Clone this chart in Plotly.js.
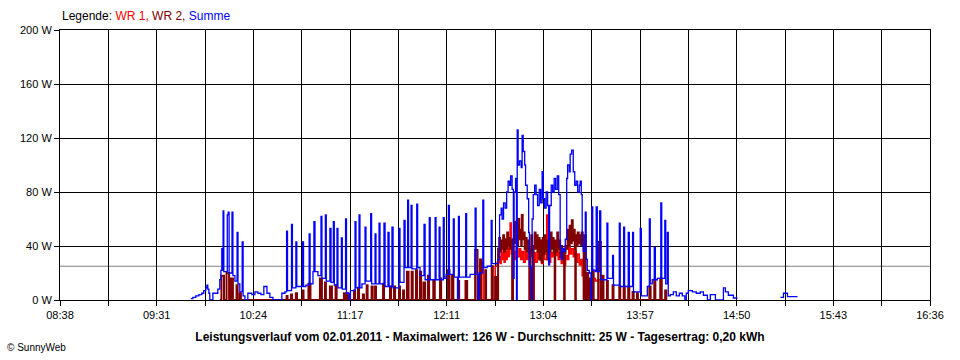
<!DOCTYPE html>
<html><head><meta charset="utf-8">
<script src="https://cdn.plot.ly/plotly-3.0.1.min.js"></script>
<style>html,body{margin:0;padding:0;background:#fff}#chart{width:960px;height:360px}</style>
</head><body><div id="chart"></div>
<script>
// ---- Data (time in minutes since midnight, power in W) ----
const xTickLabels = ["08:38","09:31","10:24","11:17","12:11","13:04","13:57","14:50","15:43","16:36"];
const yTickValues = [0, 40, 80, 120, 160, 200];
const dateText = "02.01.2011";
const maxW = 126;
const averageW = 25;
const dailyKWh = "0,20";

const summeTime = [589.9,591.0,592.6,594.3,595.9,597.0,598.1,598.7,599.2,599.8,600.3,602.0,604.7,605.8,606.4,606.9,607.3,607.6,608.0,609.9,610.4,610.9,612.5,613.0,614.1,615.3,615.8,616.8,618.1,618.6,619.6,621.2,623.4,625.1,626.7,628.4,630.0,631.7,633.3,635.0,639.9,641.6,642.5,643.0,645.2,645.7,647.6,648.1,651.3,651.8,653.1,654.9,655.4,657.0,657.5,658.1,659.7,661.4,661.9,663.8,664.3,666.3,666.9,668.2,668.7,670.2,670.7,672.6,673.1,674.9,675.4,676.9,677.6,680.1,680.6,682.3,682.8,683.9,685.6,686.1,688.7,689.2,691.1,691.6,693.3,693.8,696.0,696.6,698.2,698.8,700.4,701.0,704.3,704.8,707.0,707.6,709.0,709.5,710.9,711.4,714.0,714.5,715.8,718.0,718.6,720.9,721.4,724.1,724.6,726.3,726.8,728.6,729.1,730.1,731.4,731.9,734.1,734.6,736.4,736.9,737.4,740.9,741.4,743.3,746.1,746.6,747.7,748.3,750.3,750.8,752.7,754.9,755.4,758.7,759.5,760.4,760.9,761.7,762.6,763.4,764.2,765.0,765.6,766.4,767.1,767.5,768.3,768.8,769.2,769.7,770.5,771.4,771.9,772.5,773.3,773.8,774.7,775.5,775.9,776.5,777.0,777.4,778.0,778.8,779.6,780.4,781.3,782.1,782.9,783.5,784.3,785.1,785.9,786.5,787.0,787.9,788.7,789.5,790.3,791.2,792.0,792.8,793.4,793.9,794.7,795.6,796.4,796.9,797.8,798.3,799.1,800.0,800.8,801.6,802.4,803.3,803.8,804.4,804.9,805.5,806.6,807.1,807.7,808.8,809.7,810.1,810.7,812.1,812.6,813.2,814.5,815.1,818.5,819.0,821.6,822.1,825.3,825.8,827.7,828.2,830.2,830.8,832.6,833.1,836.8,837.4,840.7,841.8,842.3,843.4,844.5,845.1,846.2,848.1,848.6,850.3,850.8,851.7,852.2,853.3,855.0,856.6,858.3,859.9,861.3,862.1,863.2,865.4,867.6,869.8,871.5,873.7,875.3,878.1,882.5,883.6,885.2,888.0,890.2,890.5,913.8,915.5,917.7,923.2];
const summeW = [1,2,3,4,5,7,9,11,8,5,0,5,8,15,22,38,22,66,21,63,65,20,65,18,14,50,12,6,43,3,0,5,4,6,5,4,10,5,2,0,5,6,51,7,56,9,43,10,43,10,11,49,12,21,58,21,18,62,16,63,14,53,13,58,11,53,9,46,8,60,5,0,7,58,9,63,9,12,54,14,64,12,49,12,57,12,57,10,50,10,54,9,53,13,59,24,74,24,70,23,71,24,18,56,15,61,15,61,15,54,15,61,16,19,70,19,60,17,0,62,17,64,17,19,68,19,0,20,74,24,25,59,27,30,63,68,60,72,68,80,88,85,92,82,16,80,90,0,126,100,103,98,122,110,100,85,75,50,25,24,0,60,78,85,78,70,82,72,95,75,68,80,70,26,70,85,80,90,82,92,78,40,30,38,36,45,90,100,95,108,111,95,85,88,80,85,88,78,40,36,65,30,22,20,0,69,22,21,69,21,66,15,57,16,33,11,57,10,54,10,50,10,50,6,53,3,10,60,12,15,39,15,16,72,16,59,12,50,3,4,6,3,5,3,0,5,7,6,5,6,3.5,0,4,0,9,6,3.5,1.5,1.5,null,2,5,2.5,2.5];

const wr1Time = [748.3,749.6,750.5,757.1,758.2,759.3,759.8,760.4,760.9,761.5,762.0,762.6,763.1,763.7,764.2,764.8,765.3,765.9,766.4,766.9,767.8,768.6,769.4,770.3,771.1,771.9,772.7,773.6,774.4,775.2,775.9,776.3,777.1,778.1,778.5,779.3,780.2,781.0,781.8,782.6,783.5,784.3,785.4,785.9,786.8,787.6,788.4,789.2,790.1,790.9,791.7,792.5,793.4,794.2,795.0,795.8,796.7,797.5,798.3,799.1,800.0,800.8,801.6,802.4,803.3,804.1,804.9,805.7,806.6,806.9,807.7,808.8,809.9,811.0,812.1,813.2,814.8];
const wr1W = [26,28,0,25,28,32,27,35,30,38,28,36,30,40,32,38,57,34,0,36,30,40,32,38,30,36,28,37,30,34,0,32,36,0,35,28,36,30,35,27,34,30,63,30,28,35,32,36,33,37,30,35,27,32,26,33,30,40,34,38,32,36,28,34,26,30,18,14,0,16,12,15,13,16,14,15,0];

const wr2Time = [605.8,606.7,608.1,609.5,610.9,611.9,613.0,615.0,615.6,616.8,617.4,642.5,643.0,644.9,645.5,647.6,648.2,651.3,651.8,654.5,655.6,660.8,661.9,663.6,664.1,666.3,667.4,669.4,670.0,674.0,674.6,675.7,676.2,679.5,680.1,681.7,682.3,684.4,685.0,686.5,687.0,689.2,689.8,691.1,691.6,695.5,696.0,699.3,699.9,701.5,702.1,704.3,704.8,706.5,707.0,708.6,709.5,711.2,711.8,713.6,714.2,715.8,716.4,717.7,718.6,720.2,720.8,723.1,723.9,726.8,727.4,731.2,732.0,733.4,734.1,736.7,737.3,740.8,741.7,746.1,747.4,748.8,749.4,751.6,752.1,755.2,755.8,757.1,757.9,
758.7,759.3,759.8,760.4,760.9,761.5,762.0,762.6,763.1,763.7,764.2,764.8,765.3,765.9,766.5,766.9,767.5,768.0,768.6,769.2,769.7,770.3,770.8,771.4,771.7,772.2,772.7,773.3,773.8,774.4,774.9,775.5,775.9,776.3,776.9,777.4,777.8,778.2,778.8,779.3,779.9,780.4,781.0,781.5,782.1,782.6,783.2,783.7,784.3,784.8,785.4,785.9,786.5,787.0,787.6,788.1,788.7,789.2,789.8,790.1,790.6,791.2,791.7,792.3,792.8,793.4,793.9,794.5,795.0,795.3,795.8,796.4,796.9,797.5,798.0,798.6,799.2,799.7,800.2,800.8,801.1,801.4,801.9,802.4,803.0,803.5,804.1,804.6,805.2,805.7,806.3,806.8,
807.7,808.2,809.3,809.9,810.7,811.2,813.7,815.1,815.9,816.6,818.5,819.0,821.6,822.1,825.3,825.8,827.7,828.3,830.2,830.8,832.6,833.2,835.0,835.5,841.8,842.5,844.5,845.1,847.8,848.6,850.5,851.1];
const wr2W = [0,18,0,20,0,16,0,11,0,5,0,3,0,4,0,5,0,7,0,12,0,16,0,13,0,10,0,11,0,5,0,5,0,7,0,9,0,4,0,11,0,10,0,10,0,12,0,10,0,10,0,10,0,7,0,21,0,21,0,22,0,21,0,13,0,18,0,14,0,16,0,22,0,18,0,14,0,14,0,37,0,30,0,22,0,25,0,17,0,
38,46,36,44,38,48,36,45,38,50,40,46,38,44,0,45,58,42,55,40,60,45,52,40,63,45,50,38,46,36,44,35,0,38,48,36,0,40,50,38,48,36,46,30,44,28,46,34,48,36,44,30,42,36,50,38,46,36,0,44,36,50,38,44,32,40,31,38,0,35,40,38,52,40,55,42,59,44,52,38,0,48,40,50,42,48,41,50,44,0,48,0,
20,0,16,0,22,0,43,0,18,0,14,0,11,0,10,0,10,0,10,0,6,0,5,0,10,0,15,0,16,0,7,0];

// ---- Chart ----
const toMin = s => { const [h, m] = s.split(':').map(Number); return h * 60 + m; };
const xStart = toMin(xTickLabels[0]);
const xEnd = toMin(xTickLabels[xTickLabels.length - 1]);
const nSub = (xTickLabels.length - 1) * 2;
const tickvals = [], ticktext = [];
for (let k = 0; k <= nSub; k++) {
  tickvals.push(xStart + k * (xEnd - xStart) / nSub);
  ticktext.push(k % 2 === 0 ? xTickLabels[k / 2] : '');
}

const FONT = 'Liberation Sans, Arial, sans-serif';

const traces = [
  { type: 'scatter', mode: 'lines', name: 'WR 1', x: wr1Time, y: wr1W, line: { color: '#ff0000', shape: 'hv', width: 1.5, simplify: false }, hoverinfo: 'skip' },
  { type: 'scatter', mode: 'lines', name: 'WR 2', x: wr2Time, y: wr2W, line: { color: '#800000', shape: 'hv', width: 2, simplify: false }, hoverinfo: 'skip' },
  { type: 'scatter', mode: 'lines', name: 'Summe', x: summeTime, y: summeW, connectgaps: false, line: { color: '#0000ff', shape: 'hv', width: 1.3, simplify: false }, hoverinfo: 'skip' }
];

const axisCommon = {
  showgrid: true, gridcolor: '#000000', gridwidth: 1,
  showline: true, linecolor: '#000000', linewidth: 1, mirror: true,
  ticks: 'outside', ticklen: 5, tickcolor: '#000000', tickwidth: 1,
  zeroline: false, fixedrange: true,
  tickfont: { family: FONT, size: 11, color: '#000000' }
};

const layout = {
  width: 960, height: 360,
  margin: { l: 60, r: 30, t: 30, b: 60, pad: 0 },
  paper_bgcolor: '#ffffff', plot_bgcolor: '#ffffff',
  showlegend: false,
  hovermode: false,
  font: { family: FONT, size: 11, color: '#000000' },
  xaxis: Object.assign({}, axisCommon, { range: [xStart, xEnd], tickmode: 'array', tickvals: tickvals, ticktext: ticktext }),
  yaxis: Object.assign({}, axisCommon, { range: [0, 200], tickmode: 'array', tickvals: yTickValues, ticktext: yTickValues.map(v => v + ' W') }),
  title: {
    text: '<b>Leistungsverlauf vom ' + dateText + ' - Maximalwert: ' + maxW + ' W - Durchschnitt: ' + averageW + ' W - Tagesertrag: ' + dailyKWh + ' kWh</b>',
    font: { family: FONT, size: 12, color: '#000000' },
    xref: 'container', x: 0.5, xanchor: 'center',
    yref: 'container', y: 1 - 337 / 360, yanchor: 'middle'
  },
  shapes: [
    { type: 'line', xref: 'paper', x0: 0, x1: 1, yref: 'y', y0: averageW, y1: averageW, line: { color: '#808080', width: 1 }, layer: 'below' }
  ],
  annotations: [
    { xref: 'paper', yref: 'paper', x: 0, y: 1 + 14 / 270, xanchor: 'left', yanchor: 'middle', showarrow: false,
      text: 'Legende: <span style="color:#ff0000">WR 1,</span> <span style="color:#800000">WR 2,</span> <span style="color:#0000ff">Summe</span>',
      font: { family: FONT, size: 12, color: '#000000' } },
    { xref: 'paper', yref: 'paper', x: -55 / 870, y: -47 / 270, xanchor: 'left', yanchor: 'middle', showarrow: false,
      text: '© SunnyWeb', font: { family: FONT, size: 10, color: '#000000' } }
  ]
};

Plotly.newPlot('chart', traces, layout, { displayModeBar: false, staticPlot: true });
</script>
</body></html>
